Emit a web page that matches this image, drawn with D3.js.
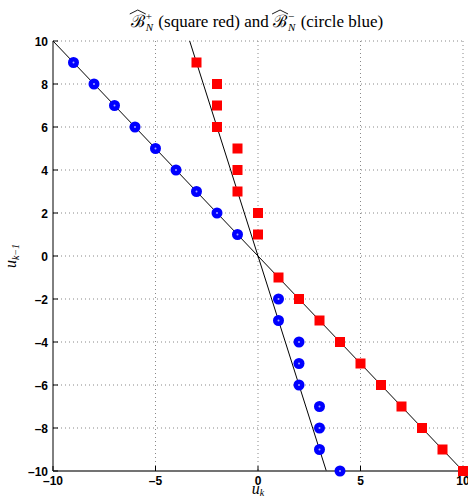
<!DOCTYPE html>
<html>
<head>
<meta charset="utf-8">
<script src="https://cdn.jsdelivr.net/npm/d3@7"></script>
<style>
  body { margin: 0; background: #fff; }
  .tick-lbl { font-family: "Liberation Sans", Arial, sans-serif; font-weight: bold; font-size: 12px; }
  .tex { font-family: "Liberation Serif", "DejaVu Serif", serif; }
</style>
</head>
<body>
<svg id="chart" width="468" height="500"></svg>
<script>
/*** DATA ***/
var red_x  = [-3, -2, -2, -2, -1, -1, -1, 0, 0, 1, 2, 3, 4, 5, 6, 7, 8, 9, 10];
var red_y  = [ 9,  8,  7,  6,  5,  4,  3, 2, 1, -1, -2, -3, -4, -5, -6, -7, -8, -9, -10];
var blue_x = [-9, -8, -7, -6, -5, -4, -3, -2, -1, 1, 1, 2, 2, 2, 3, 3, 3, 4];
var blue_y = [ 9,  8,  7,  6,  5,  4,  3,  2,  1, -2, -3, -4, -5, -6, -7, -8, -9, -10];
// two boundary lines u_{k-1} = slope * u_k
var line_slopes = [-1, -3];
var x_ticks = [-10, -5, 0, 5, 10];
var y_ticks = [-10, -8, -6, -4, -2, 0, 2, 4, 6, 8, 10];

/*** LAYOUT ***/
var svg = d3.select('#chart');
var margin = {top: 41, right: 5, bottom: 29, left: 53},
    width  = 468 - margin.left - margin.right,
    height = 500 - margin.top - margin.bottom;

var x = d3.scaleLinear().domain([-10, 10]).range([0, width]);
var y = d3.scaleLinear().domain([-10, 10]).range([height, 0]);

var g = svg.append('g').attr('transform', `translate(${margin.left},${margin.top})`);

svg.append('defs').append('clipPath').attr('id', 'clip')
    .append('rect').attr('x', 0).attr('y', 0).attr('width', width).attr('height', height);

// grid lines (dotted)
g.selectAll('.vgrid').data(x_ticks.slice(1)).enter().append('line')
    .attr('x1', d => x(d)).attr('x2', d => x(d))
    .attr('y1', 0).attr('y2', height)
    .attr('stroke', '#888').attr('stroke-width', 1).attr('stroke-dasharray', '1,3');
g.selectAll('.hgrid').data(y_ticks.slice(1)).enter().append('line')
    .attr('x1', 0).attr('x2', width)
    .attr('y1', d => y(d)).attr('y2', d => y(d))
    .attr('stroke', '#888').attr('stroke-width', 1).attr('stroke-dasharray', '1,3');

// lines
var plot = g.append('g').attr('clip-path', 'url(#clip)');
line_slopes.forEach(function(s) {
    plot.append('line')
        .attr('x1', x(-10)).attr('y1', y(-10 * s))
        .attr('x2', x(10)).attr('y2', y(10 * s))
        .attr('stroke', '#000').attr('stroke-width', 1);
});

// axes
g.append('line').attr('x1', 0).attr('x2', 0).attr('y1', 0).attr('y2', height)
    .attr('stroke', '#000').attr('stroke-width', 1);
g.append('line').attr('x1', 0).attr('x2', width).attr('y1', height).attr('y2', height)
    .attr('stroke', '#444').attr('stroke-width', 1.5);

g.selectAll('.ytk').data(y_ticks).enter().append('line')
    .attr('x1', 0).attr('x2', 5).attr('y1', d => y(d)).attr('y2', d => y(d))
    .attr('stroke', '#000');
g.selectAll('.xtk').data(x_ticks).enter().append('line')
    .attr('x1', d => x(d)).attr('x2', d => x(d)).attr('y1', height).attr('y2', height - 5)
    .attr('stroke', '#000');

g.selectAll('.ylbl').data(y_ticks).enter().append('text')
    .attr('class', 'tick-lbl')
    .attr('x', -5).attr('y', d => y(d) + 4.5)
    .attr('text-anchor', 'end')
    .text(d => d < 0 ? '\u2013' + Math.abs(d) : d);
g.selectAll('.xlbl').data(x_ticks).enter().append('text')
    .attr('class', 'tick-lbl')
    .attr('x', d => x(d)).attr('y', height + 14)
    .attr('text-anchor', 'middle')
    .text(d => d < 0 ? '\u2013' + Math.abs(d) : d);

// markers
var reds = red_x.map((d, i) => [d, red_y[i]]);
var blues = blue_x.map((d, i) => [d, blue_y[i]]);

g.selectAll('.sq').data(reds).enter().append('rect')
    .attr('x', d => x(d[0]) - 5).attr('y', d => y(d[1]) - 5)
    .attr('width', 10).attr('height', 10)
    .attr('fill', '#f00');
g.selectAll('.cc').data(blues).enter().append('circle')
    .attr('cx', d => x(d[0])).attr('cy', d => y(d[1]))
    .attr('r', 5.5).attr('fill', '#00f');
g.selectAll('.ccd').data(blues).enter().append('circle')
    .attr('cx', d => x(d[0])).attr('cy', d => y(d[1]))
    .attr('r', 1).attr('fill', '#aaf');

// title, laid out piece by piece (B with hat, sup/sub stacked)
var tg = svg.append('g').attr('class', 'tex');
var base = 27, cx = 0;
function put(txt, size, dy, italic) {
    var t = tg.append('text').attr('x', cx).attr('y', base + dy)
        .attr('font-size', size).attr('font-style', italic ? 'italic' : 'normal').text(txt);
    return t.node().getComputedTextLength();
}
function hatB(sign) {
    var w = put('\u212C', 17, 0, false);
    tg.append('path')
        .attr('d', `M${cx - 1},${base - 13} L${cx + w / 2},${base - 17} L${cx + w + 1},${base - 13}`)
        .attr('fill', 'none').attr('stroke', '#000').attr('stroke-width', 0.9);
    cx += w + 1;
    var w1 = put(sign, 11, -7, false);
    var w2 = put('N', 11, 4, true);
    cx += Math.max(w1, w2) + 1;
}
var sp = '\u00a0';
hatB('+');
cx += put(sp + '(square red) and' + sp, 17, 0, false);
hatB('\u2212');
cx += put(sp + '(circle blue)', 17, 0, false);
tg.attr('transform', `translate(${257 - cx / 2},0)`);

// axis labels
var xl = svg.append('text').attr('class', 'tex')
    .attr('x', 258).attr('y', 494).attr('text-anchor', 'middle').attr('font-size', 16);
xl.append('tspan').attr('font-style', 'italic').text('u');
xl.append('tspan').attr('font-style', 'italic').attr('font-size', 10).attr('dy', 2).text('k');

var yl = svg.append('text').attr('class', 'tex')
    .attr('transform', 'translate(16,256) rotate(-90)')
    .attr('text-anchor', 'middle').attr('font-size', 16);
yl.append('tspan').attr('font-style', 'italic').text('u');
yl.append('tspan').attr('font-style', 'italic').attr('font-size', 10).attr('dy', 3).text('k\u22121');
</script>
</body>
</html>
